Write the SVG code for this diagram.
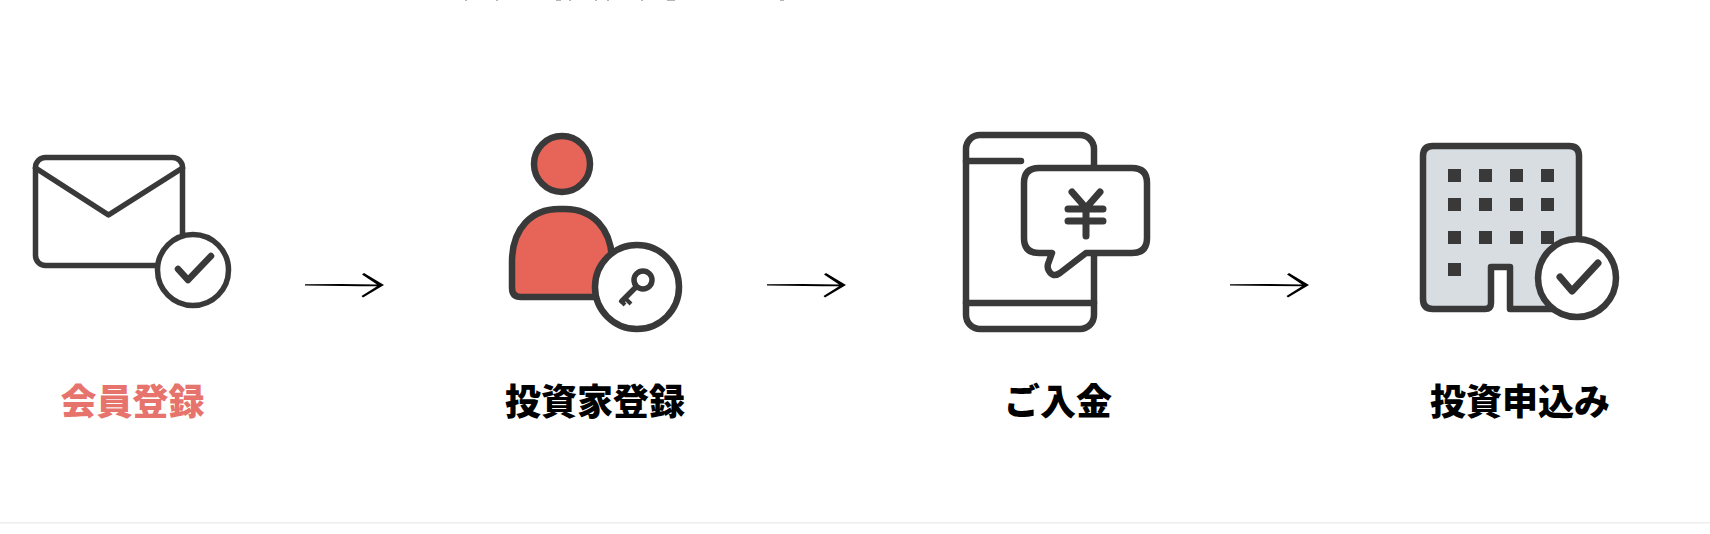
<svg xmlns="http://www.w3.org/2000/svg" width="1710" height="534" viewBox="0 0 1710 534">
<style>
.i{fill:none;stroke:#393939;stroke-width:6.500;stroke-linecap:round;stroke-linejoin:round}
.t{font-family:"Noto Sans CJK JP","Liberation Sans",sans-serif;font-weight:900;font-size:36px;text-anchor:middle;fill:#000}
</style>
<defs>
<path id="arrow" fill="#000" d="M0,-0.700 Q40,-1.400 72,-0.600 L57,-10.500 L59,-12 L79,0 L58,12.500 L56.500,11 L72,1.200 Q40,1.200 0,0.500 Z"/>
</defs>
<rect width="1710" height="534" fill="#fff"/>
<rect x="0" y="522" width="1710" height="1.5" fill="#eeeeee"/>
<g id="cropped-top" fill="#b5b5b5">
<rect x="465" y="0" width="2" height="1"/><rect x="496" y="0" width="2" height="1"/><rect x="556" y="0" width="5" height="1"/><rect x="569" y="0" width="2" height="1"/><rect x="595" y="0" width="2" height="1"/><rect x="607" y="0" width="2" height="1"/><rect x="641" y="0" width="2" height="1"/><rect x="667" y="0" width="8" height="1"/><rect x="780" y="0" width="4" height="1"/>
</g>
<g id="node-member">
<rect class="i" style="stroke-width:5.500" x="35.500" y="157.500" width="147" height="108" rx="10"/>
<path class="i" style="stroke-width:5.500" d="M35.500,168 L108.500,215 L182.500,168"/>
<circle class="i" style="fill:#fff;stroke-width:5.500" cx="193" cy="270" r="35.500"/>
<path class="i" style="stroke-width:6.500" d="M178,269 L188,280 L211,256"/>
<text class="t" x="132.500" y="415" style="fill:#e7746c">会員登録</text>
</g>
<g id="node-investor">
<circle class="i" style="fill:#e66558" cx="562" cy="164" r="28"/>
<path class="i" style="fill:#e66558" d="M612,262 C612,228 592,209 565,209 H559 C532,209 512,228 512,262 V288 Q512,297 521,297 H620 Z"/>
<circle class="i" style="fill:#fff" cx="637" cy="287" r="42"/>
<g>
<circle class="i" style="stroke-width:5.500" cx="643" cy="280" r="9"/>
<path class="i" style="stroke-width:5.500" d="M636,287 L622,301"/>
<path class="i" style="stroke-width:4;stroke-linecap:butt" d="M625,298 L631,304 M620,300 L625,305"/>
</g>
<text class="t" x="595" y="415">投資家登録</text>
</g>
<g id="node-deposit">
<rect class="i" x="966" y="135" width="128" height="194" rx="14"/>
<path class="i" d="M966,161 H1021 M966,303 H1094"/>
<path class="i" style="fill:#fff" d="M1039,168 H1132 Q1147,168 1147,183 V238 Q1147,253 1132,253 H1086 L1060,273 Q1053,278 1049,271 Q1047,268 1048,264 L1052,253 H1039 Q1024,253 1024,238 V183 Q1024,168 1039,168 Z"/>
<path class="i" style="stroke-width:7" d="M1072,192 L1086,208 L1100,192 M1086,208 V236 M1068,209 H1103 M1068,221 H1103"/>
<text class="t" x="1058" y="415">ご入金</text>
</g>
<g id="node-application">
<path class="i" style="fill:#d8dde1" d="M1433,146 H1569 Q1579,146 1579,156 V299 Q1579,309 1569,309 H1510 V267 H1491 V303 Q1491,309 1485,309 H1433 Q1423,309 1423,299 V156 Q1423,146 1433,146 Z"/>
<g fill="#393939">
<rect x="1448" y="169" width="13" height="13"/><rect x="1479" y="169" width="13" height="13"/><rect x="1510" y="169" width="13" height="13"/><rect x="1541" y="169" width="13" height="13"/>
<rect x="1448" y="198" width="13" height="13"/><rect x="1479" y="198" width="13" height="13"/><rect x="1510" y="198" width="13" height="13"/><rect x="1541" y="198" width="13" height="13"/>
<rect x="1448" y="231" width="13" height="13"/><rect x="1479" y="231" width="13" height="13"/><rect x="1510" y="231" width="13" height="13"/><rect x="1541" y="231" width="13" height="13"/>
<rect x="1448" y="263" width="13" height="13"/>
</g>
<circle class="i" style="fill:#fff" cx="1577" cy="278" r="39"/>
<path class="i" style="stroke-width:7" d="M1560,277 L1572,291 L1598,263"/>
<text class="t" x="1520" y="415">投資申込み</text>
</g>
<g id="connectors">
<use href="#arrow" x="305" y="285"/>
<use href="#arrow" x="767" y="285"/>
<use href="#arrow" x="1230" y="285"/>
</g>
</svg>
